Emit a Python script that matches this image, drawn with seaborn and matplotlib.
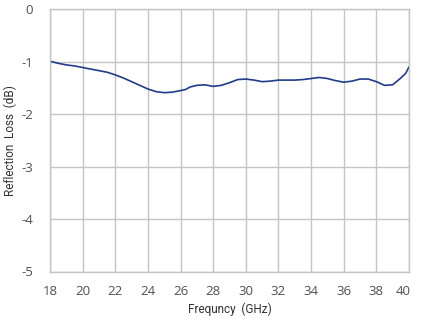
import numpy as np
import pandas as pd
import matplotlib
matplotlib.use("Agg")
import matplotlib.pyplot as plt
import matplotlib.transforms as mtransforms
import seaborn as sns

freq = [18, 18.5, 19, 19.5, 20, 20.5, 21, 21.5, 22, 22.5, 23, 23.5, 24, 24.5, 25, 25.5,
        26, 26.3, 26.6, 27, 27.5, 28, 28.5, 29, 29.5, 30, 30.5, 31, 31.5, 32, 32.5, 33,
        33.5, 34, 34.5, 35, 35.5, 36, 36.5, 37, 37.5, 38, 38.5, 39, 39.5, 39.8, 40]
loss = [-0.99, -1.03, -1.06, -1.08, -1.11, -1.14, -1.17, -1.20, -1.25, -1.31, -1.38, -1.45,
        -1.52, -1.57, -1.59, -1.58, -1.55, -1.53, -1.48, -1.45, -1.44, -1.47, -1.45, -1.40,
        -1.34, -1.33, -1.35, -1.38, -1.37, -1.35, -1.35, -1.35, -1.34, -1.32, -1.30, -1.32,
        -1.36, -1.39, -1.37, -1.33, -1.33, -1.38, -1.45, -1.44, -1.31, -1.22, -1.10]
xticks = [18, 20, 22, 24, 26, 28, 30, 32, 34, 36, 38, 40]
yticks = [0, -1, -2, -3, -4, -5]

df = pd.DataFrame({"Frequency": freq, "Loss": loss})

sns.set_style("white")
fig = plt.figure(figsize=(4.21, 3.18), dpi=100)
ax = fig.add_axes([50/421, 1-271.5/318, (409-50)/421, (271.5-9.3)/318])

sns.lineplot(data=df, x="Frequency", y="Loss", ax=ax, color="#1f3c8c", linewidth=1.2)

ax.set_xlim(18, 40)
ax.set_ylim(-5, 0)
ax.set_xticks(xticks)
ax.set_yticks(yticks)
ax.set_xticklabels([str(t) for t in xticks])
ax.set_yticklabels([str(t) for t in yticks])
ax.grid(True, color="#c4c4c4", linewidth=1.0)
for s in ax.spines.values():
    s.set_color("#c4c4c4")
    s.set_linewidth(1.0)
ax.tick_params(axis="both", length=0, labelsize=9.5, labelcolor="#505050")
ax.tick_params(axis="x", pad=10)
ax.tick_params(axis="y", pad=12)
for lab in ax.get_xticklabels() + ax.get_yticklabels():
    lab.set_fontfamily("Open Sans")
last = ax.get_xticklabels()[-1]
last.set_transform(last.get_transform() + mtransforms.ScaledTranslation(-6/100, 0, fig.dpi_scale_trans))

ax.set_xlabel("Frequncy  (GHz)", fontsize=8.5, color="#333333", fontfamily="Roboto")
ax.set_ylabel("Reflection  Loss  (dB)", fontsize=8.5, color="#333333", fontfamily="Roboto")
ax.xaxis.set_label_coords(0.501, -0.118)
ax.yaxis.set_label_coords(-0.093, 0.5)

fig.savefig("out.png", dpi=100)
